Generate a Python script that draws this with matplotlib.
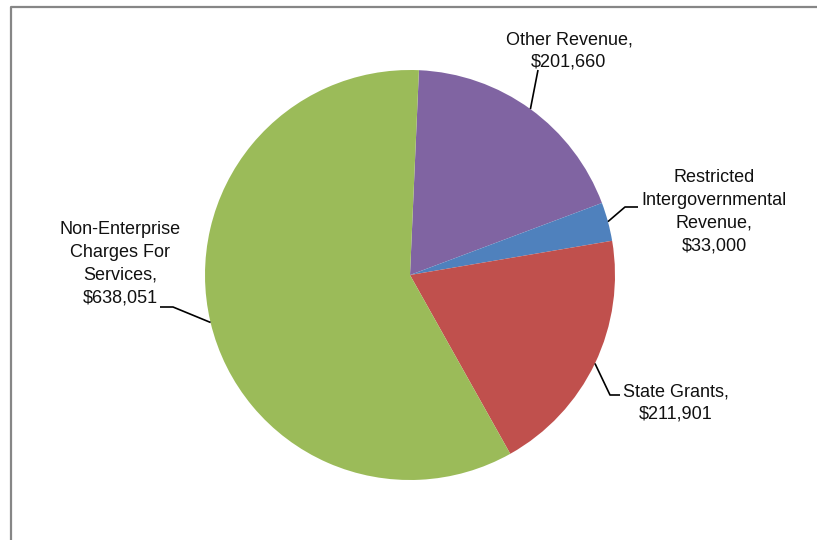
import numpy as np
import matplotlib.pyplot as plt

# slices, clockwise from the top
labels = ['Other Revenue,\n$201,660',
          'Restricted\nIntergovernmental\nRevenue,\n$33,000',
          'State Grants,\n$211,901',
          'Non-Enterprise\nCharges For\nServices,\n$638,051']
values = [201660, 33000, 211901, 638051]
colors = ['#8064A2', '#4F81BD', '#C0504D', '#9BBB59']

W, H = 817, 540
plt.rcParams['font.family'] = ['Liberation Sans', 'DejaVu Sans']

fig = plt.figure(figsize=(W / 100, H / 100), dpi=100)
ax = fig.add_axes([0, 0, 1, 1])


def px(x, y):
    # pixel coords (top-down) -> axes coords
    return x, H - y


cx, cy = px(410, 275)
R = 205
wedges, _ = ax.pie(values, colors=colors, startangle=87.5, counterclock=False,
                   center=(cx, cy), radius=R, frame=True,
                   wedgeprops=dict(linewidth=0))
ax.set_xlim(0, W)
ax.set_ylim(0, H)
ax.axis('off')

# label text centres and leader line bends (pixel coords)
text_pos = [(569, 51), (714, 212), (676, 403), (120, 264)]
bends = [[(538, 70)],
         [(625, 207), (638, 207)],
         [(610, 395), (620, 395)],
         [(173, 307), (160, 307)]]

for w, lab, tp, bend in zip(wedges, labels, text_pos, bends):
    mid = np.deg2rad((w.theta1 + w.theta2) / 2)
    ax_x = cx + R * np.cos(mid)
    ax_y = cy + R * np.sin(mid)
    pts = [(ax_x, ax_y)] + [px(*b) for b in bend]
    ax.plot([p[0] for p in pts], [p[1] for p in pts], color='black', lw=1.2,
            solid_capstyle='butt')
    ax.text(*px(*tp), lab, ha='center', va='center', fontsize=13,
            linespacing=1.44, color='#111111')

# chart area border (clipped by the image on right and bottom)
ax.plot([11, 11, W + 5], [-5, H - 6.5, H - 6.5], color='#868686', lw=1.6,
        clip_on=False)

fig.savefig('out.png', dpi=100)
